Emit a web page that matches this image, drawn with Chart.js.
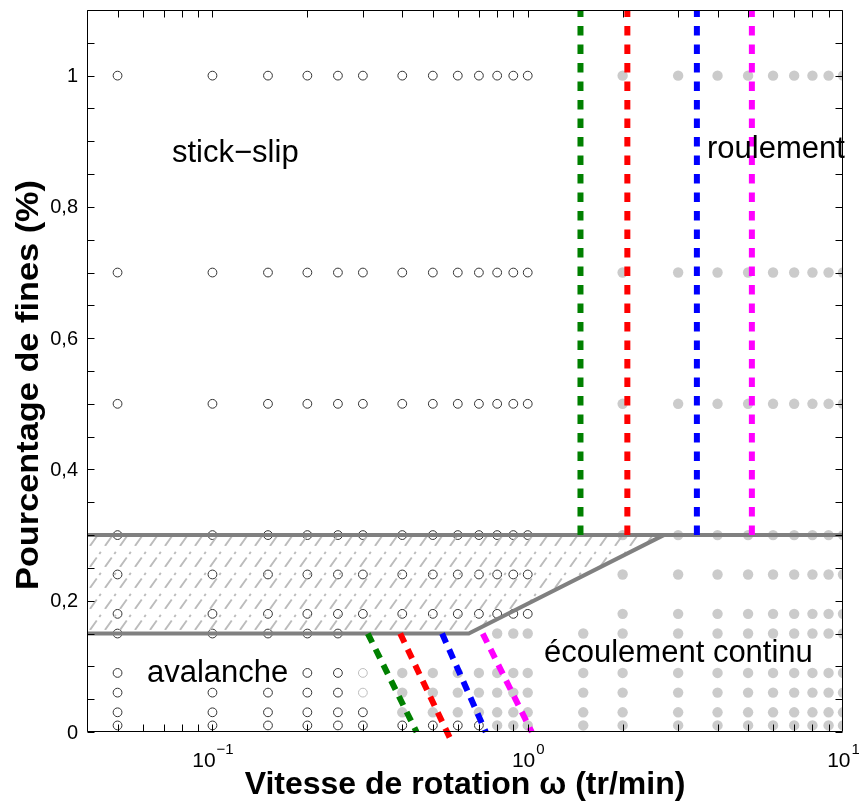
<!DOCTYPE html>
<html><head><meta charset="utf-8">
<script src="https://cdn.jsdelivr.net/npm/chart.js@4/dist/chart.umd.min.js"></script>
<style>html,body{margin:0;padding:0;background:#fff}canvas{display:block}</style>
</head><body>
<canvas id="c" width="859" height="804"></canvas>
<script>
// ---------- data ----------
const speeds = [0.05,0.1,0.15,0.2,0.25,0.3,0.4,0.5,0.6,0.7,0.8,0.9,1,1.5,2,3,4,5,6,7,8,9,10];
const fines  = [0.01,0.03,0.06,0.09,0.15,0.18,0.24,0.3,0.5,0.7,1];
// one string per fines row, one char per speed (groups: 0.05-0.3 | 0.4-1 | 1.5 | 2-10)
// o = intermittent (open circle), l = faint open circle, g = continuous flow (grey dot), - = none
const runStates = [
  "oooooo ooooggg g ggggggggg",  // 0.01
  "oooooo ggggggg g ggggggggg",  // 0.03
  "oooool ggggggg g ggggggggg",  // 0.06
  "o--ool ggggggg g ggggggggg",  // 0.09
  "ooooo- ----ggg g ggggggggg",  // 0.15
  "oooooo ooooooo - ggggggggg",  // 0.18
  "oooooo ooooooo - ggggggggg",  // 0.24
  "oooooo ooooooo - ggggggggg",  // 0.3
  "oooooo ooooooo - ggggggggg",  // 0.5
  "oooooo ooooooo - ggggggggg",  // 0.7
  "oooooo ooooooo - ggggggggg"   // 1
];
// regime boundaries
const upperBoundX = [0.04, 10];
const upperBoundY = [0.3, 0.3];
const lowerBoundX = [0.04, 0.65, 2.7];
const lowerBoundY = [0.15, 0.15, 0.3];
const hatchTopY   = [0.3, 0.3, 0.3];
// transitions for four grain sizes (green, red, blue, magenta)
const sizeColors   = ['#008000', '#ff0000', '#0000ff', '#ff00ff'];
const rollOnsetX   = [1.47, 2.07, 3.44, 5.14];   // vertical, from 0.3 upward
const rollLineY    = [0.3, 1.1];
const avalTopX     = [0.311, 0.394, 0.535, 0.72]; // at 0.15
const avalTopY     = 0.15;
const avalBottomX  = [0.444, 0.574, 0.736, 1.03];
const avalBottomY  = [0, -0.015, 0, 0];
// ticks
const yTickValues = [0, 0.2, 0.4, 0.6, 0.8, 1];
const yTickLabels = ['0', '0,2', '0,4', '0,6', '0,8', '1'];
const xTickValues = [0.1, 1, 10];
const xTickExps   = ['\u22121', '0', '1'];
const xMin = 0.04, xMax = 10, yMin = 0, yMax = 1.1;
const xTitle = 'Vitesse de rotation \u03c9 (tr/min)';
const yTitle = 'Pourcentage de fines (%)';

const FF = '"Liberation Sans", Arial, Helvetica, sans-serif';
Chart.defaults.font.family = FF;

// ---------- build point sets ----------
const openPts = [], faintPts = [], greyPts = [];
runStates.forEach((row, r) => {
  const s = row.replace(/ /g, '');
  for (let c = 0; c < speeds.length; c++) {
    const p = {x: speeds[c], y: fines[r]};
    if (s[c] === 'o') openPts.push(p);
    else if (s[c] === 'l') faintPts.push(p);
    else if (s[c] === 'g') greyPts.push(p);
  }
});

// ---------- hatch pattern ----------
function makeHatch() {
  const w = 15, h = 21, cv = document.createElement('canvas');
  cv.width = w; cv.height = h;
  const g = cv.getContext('2d');
  g.strokeStyle = '#bcbcbc'; g.lineWidth = 1.9;
  const L = Math.hypot(w, h);
  g.setLineDash([L*0.45, L*0.17, L*0.1, L*0.28]);
  for (const dx of [-w, 0, w]) {
    g.beginPath(); g.moveTo(dx, h); g.lineTo(dx + w, 0); g.stroke();
  }
  return g.createPattern(cv, 'repeat');
}

const datasets = [];
sizeColors.forEach((col, i) => {
  datasets.push({
    data: rollLineY.map(v => ({x: rollOnsetX[i], y: v})),
    showLine: true, borderColor: col, borderWidth: 6, borderDash: [9.5, 9],
    borderCapStyle: 'butt', pointRadius: 0, fill: false, order: 0
  });
  datasets.push({
    data: [{x: avalTopX[i], y: avalTopY}, {x: avalBottomX[i], y: avalBottomY[i]}],
    showLine: true, borderColor: col, borderWidth: 6, borderDash: [10, 7.5],
    borderCapStyle: 'butt', pointRadius: 0, fill: false, order: 0, clip: false
  });
});
const lowerIdx = datasets.length;
datasets.push({
  data: lowerBoundX.map((v, i) => ({x: v, y: lowerBoundY[i]})),
  showLine: true, borderColor: '#808080', borderWidth: 4, pointRadius: 0,
  fill: false, order: 1
});
datasets.push({
  data: upperBoundX.map((v, i) => ({x: v, y: upperBoundY[i]})),
  showLine: true, borderColor: '#808080', borderWidth: 4, pointRadius: 0,
  fill: false, order: 1
});
datasets.push({
  data: lowerBoundX.map((v, i) => ({x: v, y: hatchTopY[i]})),
  showLine: true, borderWidth: 0, borderColor: 'rgba(0,0,0,0)', pointRadius: 0,
  backgroundColor: makeHatch(), fill: {target: lowerIdx}, order: 2
});
datasets.push({
  data: greyPts, showLine: false, pointRadius: 5.2, pointBorderWidth: 0,
  pointBackgroundColor: '#cbcbcb', pointBorderColor: '#cbcbcb', order: 3
});
datasets.push({
  data: openPts, showLine: false, pointRadius: 4.4, pointBorderWidth: 1,
  pointBackgroundColor: 'rgba(0,0,0,0)', pointBorderColor: '#333333', order: 3
});
datasets.push({
  data: faintPts, showLine: false, pointRadius: 4.4, pointBorderWidth: 1,
  pointBackgroundColor: 'rgba(0,0,0,0)', pointBorderColor: '#bdbdbd', order: 3
});

const frame = {
  id: 'frame',
  afterDraw(chart) {
    const {ctx, chartArea: a, scales: {x, y}} = chart;
    ctx.save();
    ctx.strokeStyle = '#000'; ctx.lineWidth = 1;
    const L = Math.round(a.left) + 0.5, R = Math.round(a.right) - 0.5;
    const T = Math.round(a.top) + 0.5, B = Math.round(a.bottom) - 0.5;
    ctx.beginPath();
    for (let k = 0; k <= 22; k++) {
      const py = Math.round(y.getPixelForValue(k * 0.05)) + 0.5;
      ctx.moveTo(L, py); ctx.lineTo(L + 7, py);
      ctx.moveTo(R, py); ctx.lineTo(R - 7, py);
    }
    for (let e = -2; e <= 0; e++) {
      for (let m = 1; m <= 9; m++) {
        const v = m * Math.pow(10, e);
        if (v < xMin - 1e-9) continue;
        const px = Math.round(x.getPixelForValue(v)) + 0.5;
        ctx.moveTo(px, B); ctx.lineTo(px, B - 7);
        ctx.moveTo(px, T); ctx.lineTo(px, T + 7);
      }
    }
    ctx.moveTo(L, T); ctx.lineTo(R, T); ctx.lineTo(R, B); ctx.lineTo(L, B); ctx.closePath();
    ctx.stroke();

    ctx.fillStyle = '#000';
    // y tick labels
    ctx.font = '20px ' + FF; ctx.textAlign = 'right'; ctx.textBaseline = 'middle';
    yTickValues.forEach((v, i) => ctx.fillText(yTickLabels[i], a.left - 9, y.getPixelForValue(v) + 1));
    // x tick labels with superscript
    ctx.textAlign = 'left'; ctx.textBaseline = 'alphabetic';
    xTickValues.forEach((v, i) => {
      ctx.font = '21px ' + FF; const w1 = ctx.measureText('10').width;
      ctx.font = '15px ' + FF; const w2 = ctx.measureText(xTickExps[i]).width;
      const x0 = x.getPixelForValue(v) - (w1 + w2) / 2;
      ctx.font = '21px ' + FF; ctx.fillText('10', x0, a.bottom + 35);
      ctx.font = '15px ' + FF; ctx.fillText(xTickExps[i], x0 + w1 + 1, a.bottom + 22);
    });
    // y axis title (rotated)
    ctx.save();
    ctx.font = 'bold 32px ' + FF;
    const tw = ctx.measureText(yTitle).width;
    ctx.translate(29, 385);
    ctx.rotate(-Math.PI / 2);
    ctx.scale(410 / tw, 1);
    ctx.textAlign = 'center'; ctx.textBaseline = 'middle';
    ctx.fillText(yTitle, 0, 0);
    ctx.restore();
    // regime labels
    ctx.textAlign = 'left'; ctx.textBaseline = 'alphabetic';
    ctx.font = '31px ' + FF;
    ctx.fillText('stick\u2212slip', a.left + 85, a.top + 152);
    ctx.fillText('roulement', a.left + 620, a.top + 148);
    ctx.fillText('avalanche', a.left + 60, a.top + 672);
    ctx.fillText('\u00e9coulement continu', a.left + 457, a.top + 652);
    ctx.restore();
  }
};

new Chart(document.getElementById('c'), {
  type: 'scatter',
  data: {datasets},
  options: {
    responsive: false, animation: false,
    layout: {padding: {top: 10, right: 16, left: 0, bottom: 0}},
    plugins: {legend: {display: false}, tooltip: {enabled: false}},
    scales: {
      x: {
        type: 'logarithmic', min: xMin, max: xMax,
        grid: {display: false}, border: {display: false},
        ticks: {display: false},
        title: {display: true, text: xTitle, color: '#000',
                font: {size: 32, weight: 'bold'}, padding: {top: 0, bottom: 0}},
        afterFit(s) { s.height = 72; }
      },
      y: {
        min: yMin, max: yMax,
        grid: {display: false}, border: {display: false},
        ticks: {display: false},
        afterFit(s) { s.width = 87; }
      }
    }
  },
  plugins: [frame]
});
</script>
</body></html>
